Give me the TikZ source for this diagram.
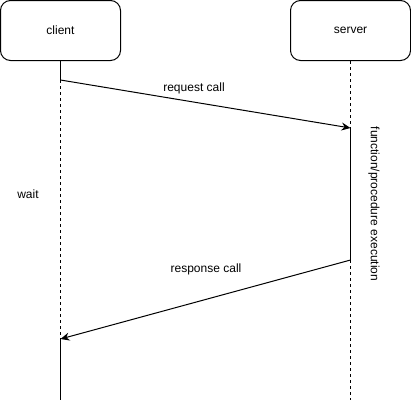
\documentclass[tikz,border=0pt]{standalone}
\usepackage{fontspec}
\setmainfont{Liberation Sans}
\usetikzlibrary{arrows.meta}
\begin{document}
\begin{tikzpicture}[x=1pt,y=-1pt,
  box/.style={draw, line width=1pt, rounded corners=10pt, minimum width=120pt, minimum height=60pt, inner sep=0pt, font=\fontsize{12}{14}\selectfont},
  lbl/.style={inner sep=0pt, font=\fontsize{12}{14}\selectfont},
  life/.style={line width=1pt, dash pattern=on 3pt off 3pt},
  solidl/.style={line width=1pt},
  msg/.style={line width=1pt, -{Stealth[length=9pt,width=8pt,inset=3pt]}}]
\useasboundingbox (0,0) rectangle (411,402);
\node[box] (client) at (60.5,30.5) {client};
\node[box] (server) at (350.5,30.5) {server};
\coordinate (c1) at (60.5,80);
\coordinate (c2) at (60.5,339);
\coordinate (c3) at (60.5,400);
\coordinate (s1) at (350.5,128);
\coordinate (s2) at (350.5,260);
\coordinate (s3) at (350.5,400);
\draw[solidl] (client.south) -- (c1);
\draw[life] (c1) -- (c2);
\draw[solidl] (c2) -- (c3);
\draw[life] (server.south) -- (s1);
\draw[solidl] (s1) -- (s2);
\draw[life] (s2) -- (s3);
\draw[msg] (c1) -- (s1);
\draw[msg] (s2) -- (c2);
\node[lbl] (req) at (194,88) {request call};
\node[lbl] (resp) at (206,269) {response call};
\node[lbl] (wait) at (28,194) {wait};
\node[lbl, rotate=-90] (exec) at (374,204) {function/procedure execution};
\end{tikzpicture}
\end{document}
